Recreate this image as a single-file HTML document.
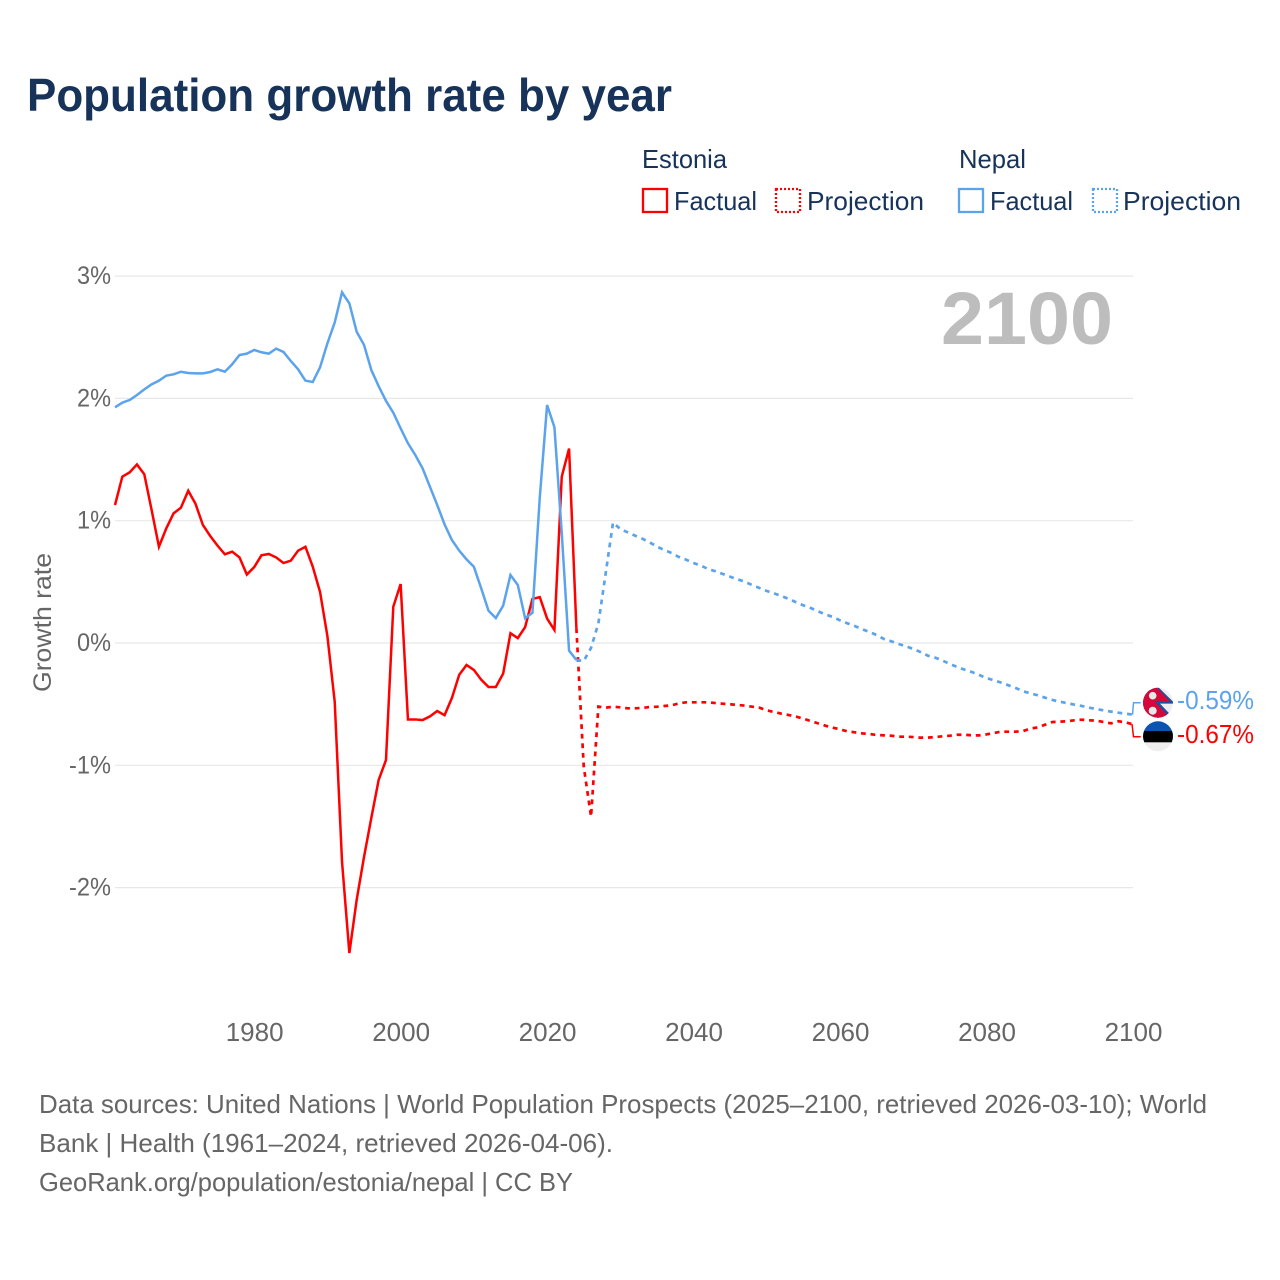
<!DOCTYPE html>
<html lang="en">
<head>
<meta charset="utf-8">
<title>Population growth rate by year</title>
<style>
html,body{margin:0;padding:0;background:#fff;width:1280px;height:1280px;overflow:hidden}
svg{display:block}
text{font-family:"Liberation Sans",sans-serif}
</style>
</head>
<body>
<svg id="chart" xmlns="http://www.w3.org/2000/svg" width="1280" height="1280" viewBox="0 0 1280 1280">
  <defs>
    <clipPath id="clip-nepal"><circle cx="1158" cy="702.7" r="15"/></clipPath>
    <clipPath id="clip-estonia"><circle cx="1158" cy="736.3" r="15"/></clipPath>
  </defs>
  <rect x="0" y="0" width="1280" height="1280" fill="#fff"/>
  <text x="27" y="111" font-size="46" font-weight="700" fill="#17335a" textLength="645" lengthAdjust="spacingAndGlyphs">Population growth rate by year</text>

  <g font-size="26" fill="#17335a">
    <text x="642" y="168" textLength="85" lengthAdjust="spacingAndGlyphs">Estonia</text>
    <text x="959" y="168" textLength="67" lengthAdjust="spacingAndGlyphs">Nepal</text>
    <rect x="643" y="189" width="24" height="23" fill="none" stroke="#ff0000" stroke-width="2.3"/>
    <text x="674" y="210" textLength="83" lengthAdjust="spacingAndGlyphs">Factual</text>
    <rect x="776" y="189" width="24" height="23" fill="none" stroke="#ff0000" stroke-width="2.3" stroke-dasharray="2 2"/>
    <text x="807" y="210" textLength="117" lengthAdjust="spacingAndGlyphs">Projection</text>
    <rect x="959" y="189" width="24" height="23" fill="none" stroke="#5ba3ec" stroke-width="2.3"/>
    <text x="990" y="210" textLength="83" lengthAdjust="spacingAndGlyphs">Factual</text>
    <rect x="1093" y="189" width="24" height="23" fill="none" stroke="#5ba3ec" stroke-width="2.3" stroke-dasharray="2 2"/>
    <text x="1123" y="210" textLength="118" lengthAdjust="spacingAndGlyphs">Projection</text>
  </g>

  <text transform="translate(51,692) rotate(-90)" font-size="25" fill="#666" textLength="139" lengthAdjust="spacingAndGlyphs">Growth rate</text>
  <g id="grid"></g>
  <g id="yticks"></g>
  <g id="xticks"></g>
  <text x="941" y="344" font-size="74" font-weight="700" fill="#bdbdbd" textLength="172" lengthAdjust="spacingAndGlyphs">2100</text>
  <g id="series"></g>

  <path d="M1132.5 714.7 L1133.5 702.7 L1140.7 702.7" fill="none" stroke="#5ba3ec" stroke-width="1.5"/>
  <path d="M1132 724 L1133.5 736.7 L1140.7 736.7" fill="none" stroke="#ff0000" stroke-width="1.5"/>

  <g clip-path="url(#clip-nepal)">
    <rect x="1140" y="685" width="36" height="36" fill="#eeeeee"/>
    <polygon points="1140,680 1151,680 1175,703.6 1160,703.6 1175,719.5 1140,725" fill="#1c4fa0"/>
    <polygon points="1140,680 1150,680 1170,701.6 1155,701.6 1171,719 1140,724" fill="#d5083b"/>
    <circle cx="1152.7" cy="695.7" r="3.8" fill="#e8e8e8"/>
    <circle cx="1152.7" cy="710.7" r="4" fill="#e8e8e8"/>
  </g>
  <g clip-path="url(#clip-estonia)">
    <rect x="1140" y="718" width="36" height="36" fill="#eeeeee"/>
    <rect x="1140" y="718" width="36" height="13" fill="#0a55b0"/>
    <rect x="1140" y="731" width="36" height="11.3" fill="#000"/>
  </g>
  <text x="1177" y="709" font-size="26" fill="#5ba3ec" textLength="77" lengthAdjust="spacingAndGlyphs">-0.59%</text>
  <text x="1177" y="743" font-size="26" fill="#ff0000" textLength="77" lengthAdjust="spacingAndGlyphs">-0.67%</text>

  <g font-size="26" fill="#666">
    <text x="39" y="1113" textLength="1168" lengthAdjust="spacingAndGlyphs">Data sources: United Nations | World Population Prospects (2025–2100, retrieved 2026-03-10); World</text>
    <text x="39" y="1152" textLength="574" lengthAdjust="spacingAndGlyphs">Bank | Health (1961–2024, retrieved 2026-04-06).</text>
    <text x="39" y="1191" textLength="534" lengthAdjust="spacingAndGlyphs">GeoRank.org/population/estonia/nepal | CC BY</text>
  </g>
</svg>
<script>
const xTickYears = [1980, 2000, 2020, 2040, 2060, 2080, 2100];
const yTickValues = [3, 2, 1, 0, -1, -2];
const factualStartYear = 1961;
const projectionStartYear = 2024;

const estoniaFactual = [1.128,1.36,1.395,1.46,1.38,1.087,0.787,0.937,1.06,1.106,1.245,1.137,0.965,0.875,0.796,0.725,0.747,0.70,0.56,0.62,0.717,0.728,0.70,0.654,0.673,0.755,0.787,0.624,0.417,0.057,-0.48,-1.79,-2.535,-2.1,-1.75,-1.43,-1.12,-0.957,0.297,0.482,-0.625,-0.625,-0.63,-0.6,-0.556,-0.59,-0.45,-0.26,-0.18,-0.22,-0.3,-0.36,-0.36,-0.25,0.08,0.04,0.13,0.36,0.375,0.2,0.106,1.36,1.59,0.12];

const estoniaProjection = [0.12,-1.01,-1.42,-0.52,-0.529,-0.521,-0.526,-0.534,-0.534,-0.531,-0.523,-0.521,-0.515,-0.51,-0.493,-0.485,-0.485,-0.485,-0.485,-0.491,-0.496,-0.501,-0.507,-0.512,-0.521,-0.529,-0.551,-0.564,-0.578,-0.589,-0.602,-0.619,-0.638,-0.657,-0.676,-0.692,-0.706,-0.722,-0.73,-0.739,-0.744,-0.752,-0.755,-0.758,-0.766,-0.766,-0.769,-0.774,-0.774,-0.769,-0.763,-0.758,-0.75,-0.75,-0.755,-0.755,-0.747,-0.736,-0.725,-0.725,-0.725,-0.72,-0.70,-0.69,-0.668,-0.646,-0.643,-0.64,-0.632,-0.627,-0.632,-0.635,-0.646,-0.657,-0.64,-0.649,-0.665];

const nepalFactual = [1.927,1.965,1.987,2.028,2.074,2.115,2.145,2.186,2.197,2.218,2.208,2.205,2.205,2.216,2.238,2.218,2.279,2.355,2.366,2.396,2.377,2.366,2.407,2.38,2.306,2.238,2.145,2.134,2.254,2.45,2.62,2.867,2.777,2.545,2.437,2.232,2.10,1.98,1.883,1.755,1.633,1.537,1.428,1.278,1.128,0.97,0.842,0.755,0.684,0.624,0.447,0.264,0.204,0.305,0.556,0.474,0.202,0.248,1.19,1.946,1.764,0.9,-0.063,-0.139];

const nepalProjection = [-0.139,-0.147,-0.04,0.16,0.57,0.984,0.932,0.905,0.878,0.853,0.823,0.788,0.76,0.736,0.703,0.681,0.654,0.632,0.605,0.586,0.564,0.542,0.521,0.501,0.474,0.45,0.425,0.406,0.384,0.36,0.333,0.308,0.286,0.259,0.234,0.213,0.185,0.161,0.139,0.114,0.09,0.065,0.033,0.014,-0.008,-0.027,-0.049,-0.074,-0.104,-0.12,-0.144,-0.172,-0.196,-0.218,-0.237,-0.262,-0.286,-0.305,-0.324,-0.346,-0.368,-0.395,-0.412,-0.428,-0.447,-0.466,-0.48,-0.491,-0.504,-0.515,-0.529,-0.54,-0.551,-0.561,-0.57,-0.578,-0.586];

const NS = 'http://www.w3.org/2000/svg';
const plotLeft = 115, plotRight = 1133, xMin = 1961, xMax = 2100;
const zeroY = 643, pxPerUnit = 122.3;
function xScale(year) { return plotLeft + (year - xMin) * (plotRight - plotLeft) / (xMax - xMin); }
function yScale(value) { return zeroY - value * pxPerUnit; }

const gridGroup = document.getElementById('grid');
const yTickGroup = document.getElementById('yticks');
const xTickGroup = document.getElementById('xticks');
const seriesGroup = document.getElementById('series');

yTickValues.forEach(function (v) {
  const line = document.createElementNS(NS, 'line');
  
  
  line.setAttribute('x1', plotLeft);
  line.setAttribute('x2', plotRight);
  line.setAttribute('y1', yScale(v));
  line.setAttribute('y2', yScale(v));
  line.setAttribute('stroke', '#e8e8e8');
  line.setAttribute('stroke-width', '1.2');
  gridGroup.appendChild(line);

  const label = document.createElementNS(NS, 'text');
  
  
  label.setAttribute('x', 111);
  label.setAttribute('y', yScale(v) + 8);
  label.setAttribute('text-anchor', 'end');
  label.setAttribute('font-size', '25');
  label.setAttribute('fill', '#666');
  label.setAttribute('textLength', v < 0 ? 42 : 34);
  label.setAttribute('lengthAdjust', 'spacingAndGlyphs');
  label.textContent = v + '%';
  yTickGroup.appendChild(label);
});

xTickYears.forEach(function (yr) {
  const label = document.createElementNS(NS, 'text');
  
  
  label.setAttribute('x', xScale(yr) + 0.5);
  label.setAttribute('y', 1041);
  label.setAttribute('text-anchor', 'middle');
  label.setAttribute('font-size', '26');
  label.setAttribute('fill', '#666');
  label.textContent = String(yr);
  xTickGroup.appendChild(label);
});

function pathFor(values, startYear) {
  return values.map(function (v, i) {
    return (i ? 'L' : 'M') + xScale(startYear + i).toFixed(2) + ' ' + yScale(v).toFixed(2);
  }).join(' ');
}

function drawLine(values, startYear, color, dashed, name) {
  const p = document.createElementNS(NS, 'path');
  
  
  p.setAttribute('d', pathFor(values, startYear));
  p.setAttribute('fill', 'none');
  p.setAttribute('stroke', color);
  p.setAttribute('stroke-width', dashed ? '2.7' : '2.5');
  p.setAttribute('stroke-linejoin', 'miter');
  if (dashed) {
    p.setAttribute('stroke-dasharray', '4.8 4.8');
  }
  seriesGroup.appendChild(p);
}

drawLine(estoniaFactual, factualStartYear, '#ff0000', false, 'estonia-factual-line');
drawLine(estoniaProjection, projectionStartYear, '#ff0000', true, 'estonia-projection-line');
drawLine(nepalFactual, factualStartYear, '#5ba3ec', false, 'nepal-factual-line');
drawLine(nepalProjection, projectionStartYear, '#5ba3ec', true, 'nepal-projection-line');
</script>
</body>
</html>
